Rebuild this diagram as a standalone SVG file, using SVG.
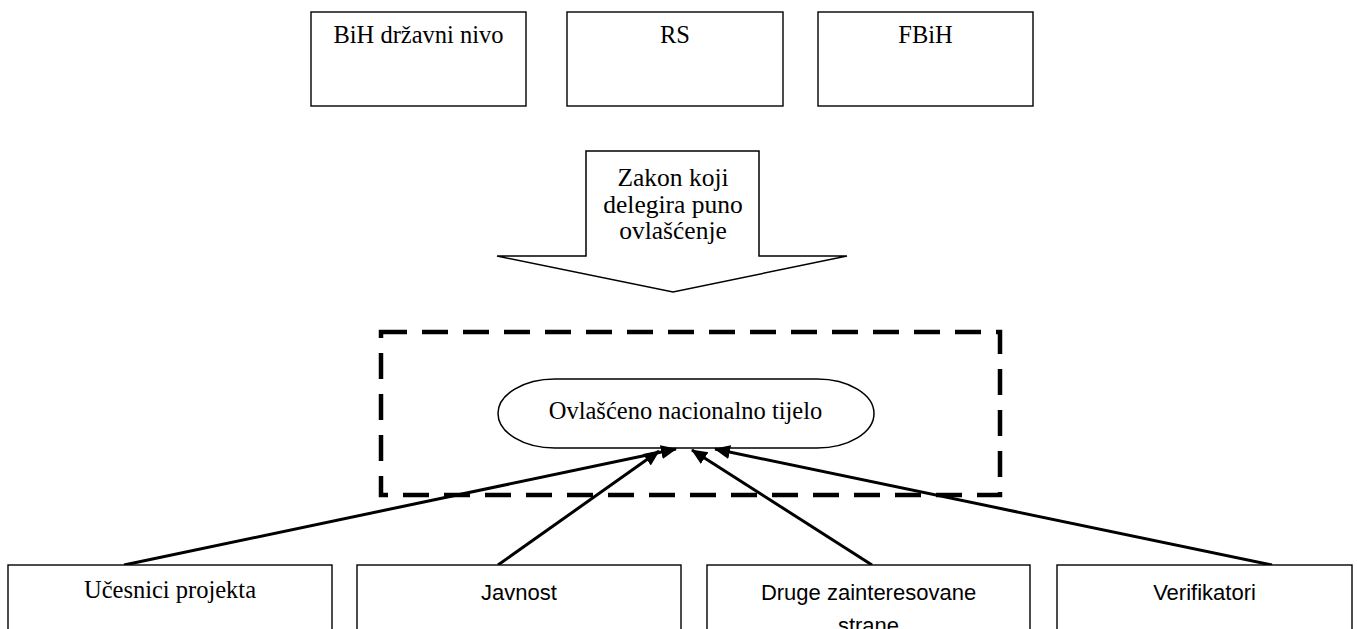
<svg xmlns="http://www.w3.org/2000/svg" width="1357" height="629" viewBox="0 0 1357 629">
<defs>
<style>
.box{fill:#fff;stroke:#000;stroke-width:1.4}
.serif{font-family:"Liberation Serif","Times New Roman",serif;fill:#000;text-anchor:middle}
.sans{font-family:"Liberation Sans",Arial,sans-serif;fill:#000;text-anchor:middle;font-size:22px}
.conn{stroke:#000;stroke-width:3;fill:none;marker-end:url(#ah)}
</style>
<marker id="ah" markerUnits="userSpaceOnUse" markerWidth="18" markerHeight="16" refX="15" refY="7" orient="auto">
<path d="M0,0 L16,7 L0,14 z" fill="#000"/>
</marker>
</defs>
<rect width="1357" height="629" fill="#fff"/>
<g id="bih">
<rect class="box" x="311" y="12" width="215" height="94"/>
<text class="serif" x="418.5" y="43" font-size="24.5">BiH državni nivo</text>
</g>
<g id="rs">
<rect class="box" x="567" y="12" width="216" height="94"/>
<text class="serif" x="675" y="43" font-size="24.5">RS</text>
</g>
<g id="fbih">
<rect class="box" x="818" y="12" width="215" height="94"/>
<text class="serif" x="925.5" y="43" font-size="24.5">FBiH</text>
</g>
<g id="zakon">
<path d="M586,151 L759,151 L759,256 L847,256 L673,292 L497,256 L586,256 Z" fill="#fff" stroke="#000" stroke-width="1.5" stroke-linejoin="miter"/>
<text class="serif" x="673" y="186" font-size="25.5">Zakon koji</text>
<text class="serif" x="673" y="212.5" font-size="25.5">delegira puno</text>
<text class="serif" x="673" y="239" font-size="25.5">ovlašćenje</text>
</g>
<g id="granica">
<rect x="381" y="332" width="619" height="163" fill="none" stroke="#000" stroke-width="4.5" stroke-dasharray="26 15"/>
</g>
<g id="tijelo">
<rect x="498" y="379" width="376" height="69" rx="57" ry="34.5" fill="#fff" stroke="#000" stroke-width="1.5"/>
<text class="serif" x="685.5" y="419" font-size="24.5">Ovlašćeno nacionalno tijelo</text>
</g>
<g id="connectors">
<line class="conn" x1="124" y1="565" x2="676" y2="449"/>
<line class="conn" x1="498" y1="565" x2="659" y2="451"/>
<line class="conn" x1="872" y1="565" x2="692" y2="450"/>
<line class="conn" x1="1272" y1="565" x2="715" y2="449"/>
</g>
<g id="ucesnici">
<rect class="box" x="8" y="565" width="324" height="80"/>
<text class="serif" x="170" y="598" font-size="24.5">Učesnici projekta</text>
</g>
<g id="javnost">
<rect class="box" x="357" y="565" width="324" height="80"/>
<text class="sans" x="519" y="600">Javnost</text>
</g>
<g id="druge">
<rect class="box" x="707" y="565" width="323" height="80"/>
<text class="sans" x="868.5" y="600">Druge zainteresovane</text>
<text class="sans" x="868.5" y="633">strane</text>
</g>
<g id="verifikatori">
<rect class="box" x="1057" y="565" width="295" height="80"/>
<text class="sans" x="1204.5" y="600">Verifikatori</text>
</g>
</svg>
